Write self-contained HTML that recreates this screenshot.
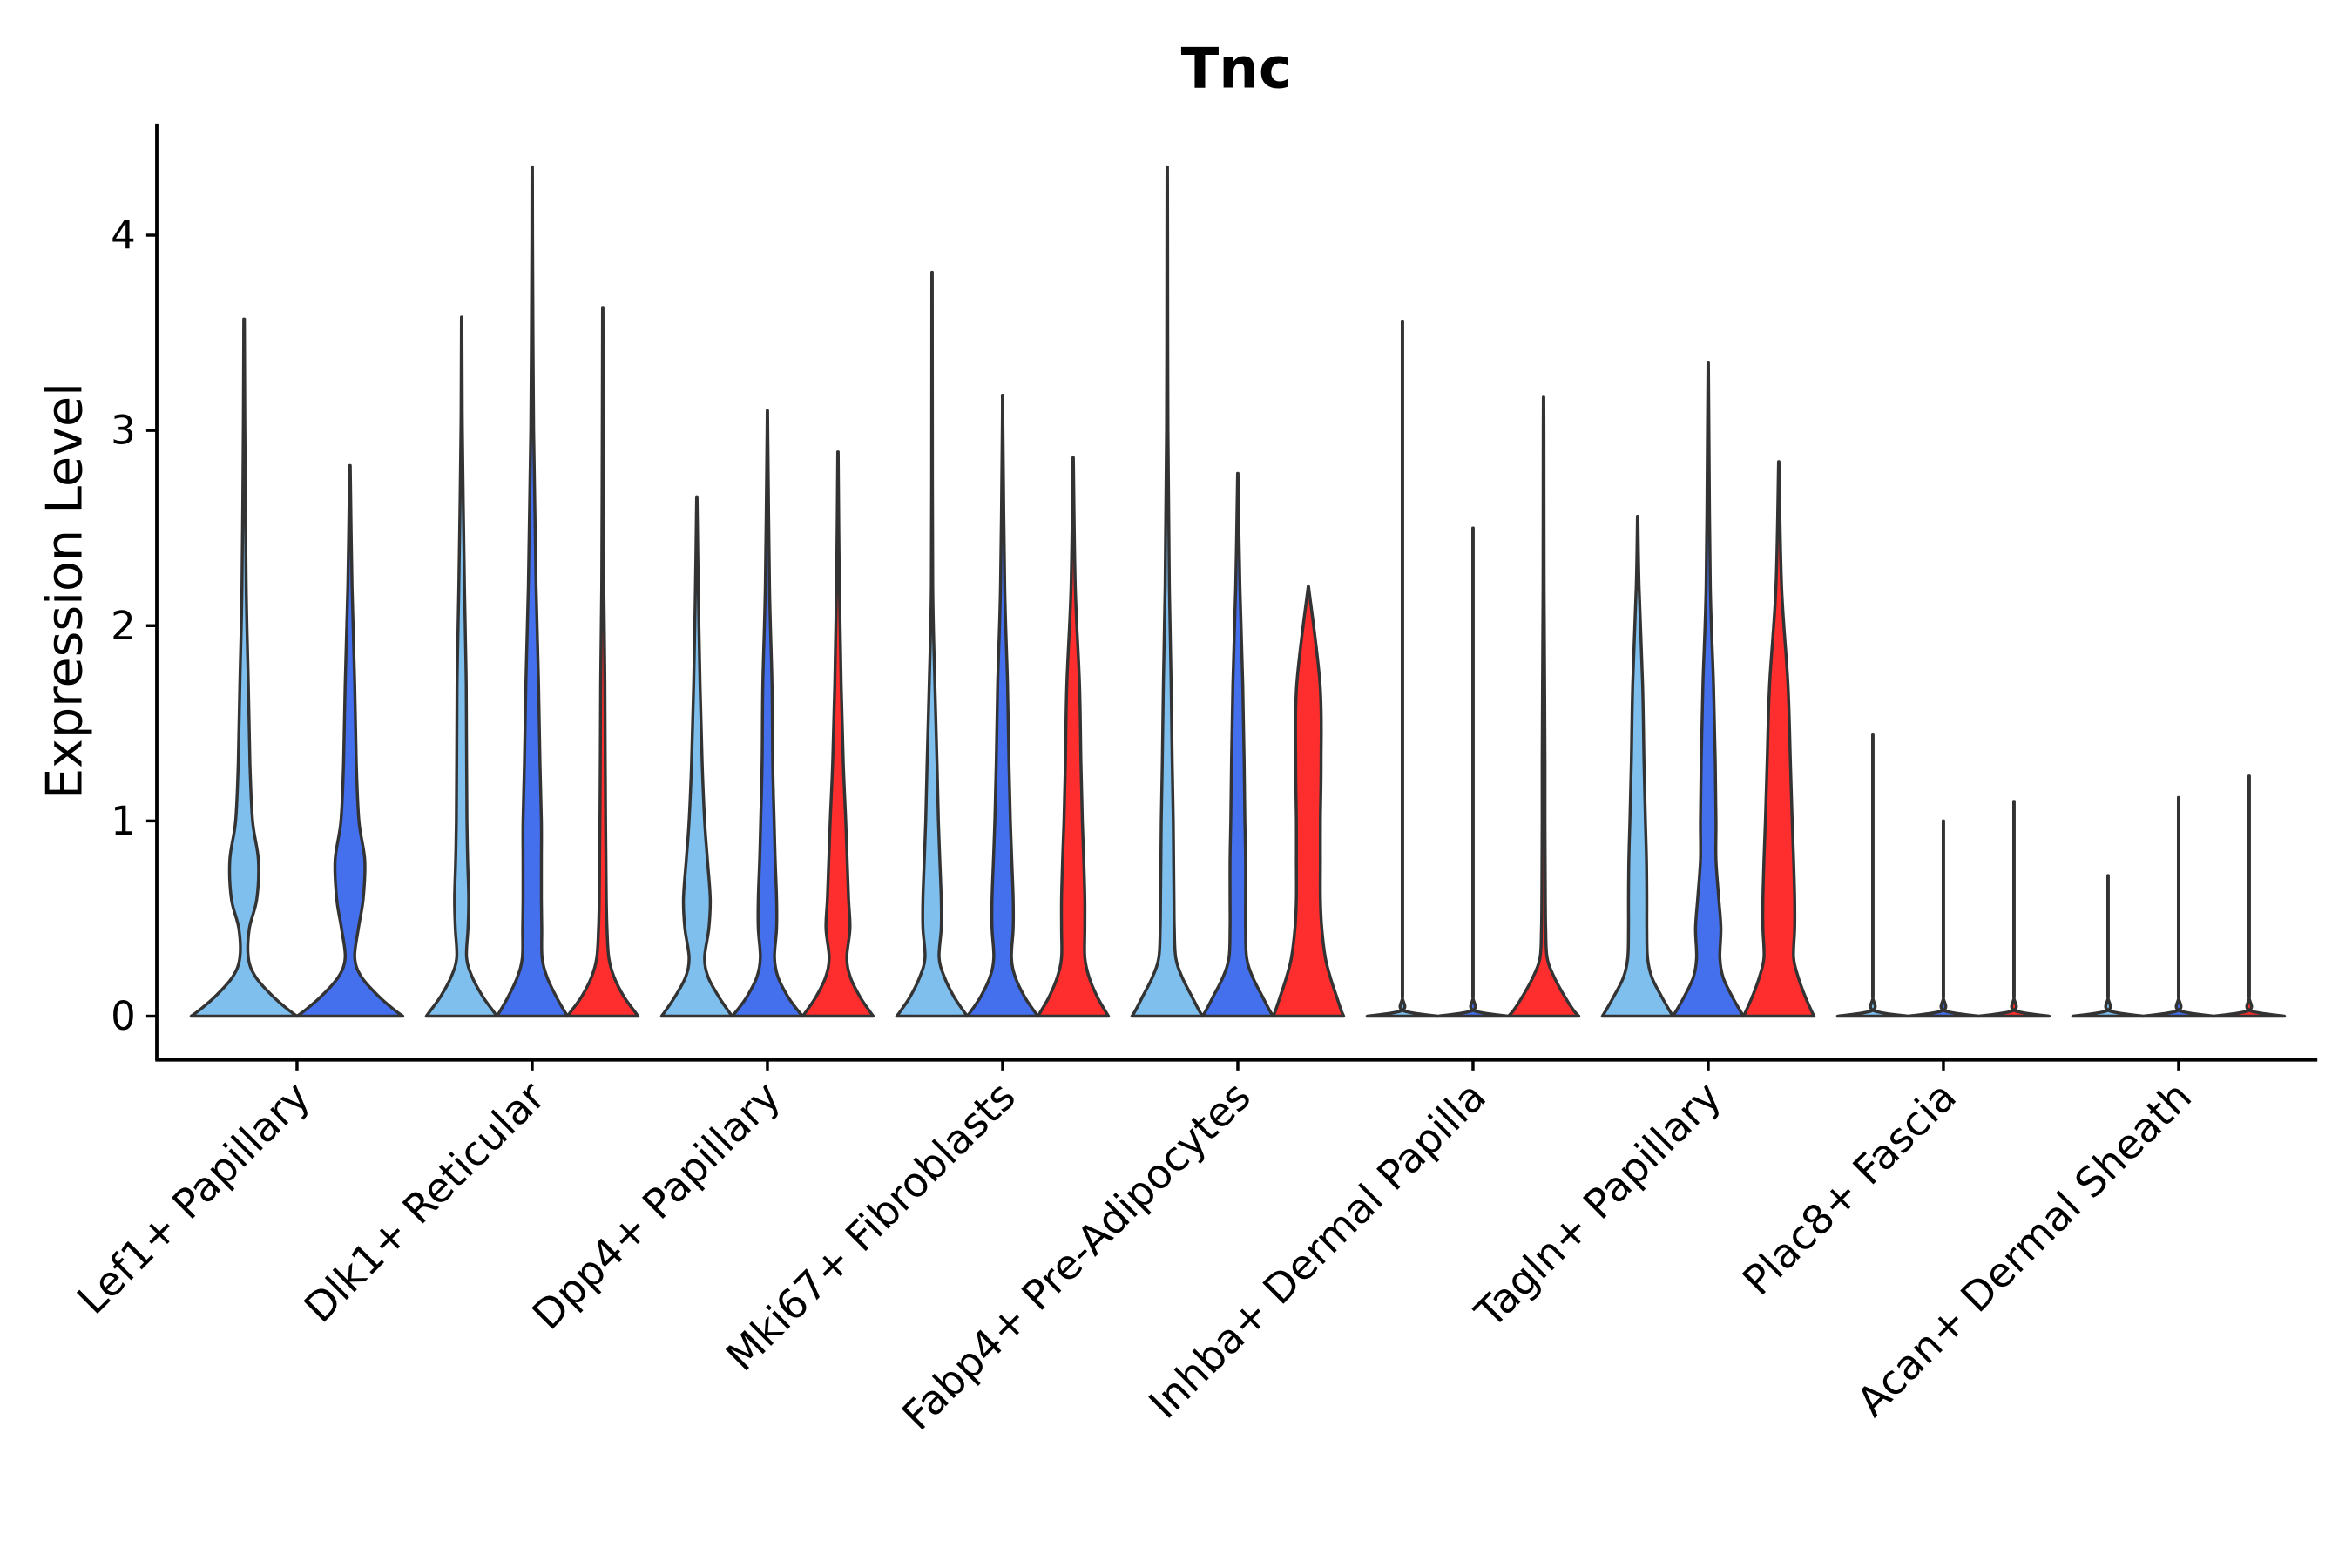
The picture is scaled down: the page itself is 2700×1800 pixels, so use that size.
<!DOCTYPE html>
<html><head><meta charset="utf-8"><style>
html,body{margin:0;padding:0;background:#fff}
svg{display:block;font-family:"DejaVu Sans","Liberation Sans",sans-serif}
</style></head><body>
<svg id="chart" width="2700" height="1800" viewBox="0 0 1560 1040" xmlns="http://www.w3.org/2000/svg">
<text x="820" y="58" text-anchor="middle" font-size="37" font-weight="bold">Tnc</text>
<text transform="translate(54,392) rotate(-90)" text-anchor="middle" font-size="33">Expression Level</text>
<g id="plot"></g>
</svg>
<script>
const categories = ["Lef1+ Papillary","Dlk1+ Reticular","Dpp4+ Papillary","Mki67+ Fibroblasts","Fabp4+ Pre-Adipocytes","Inhba+ Dermal Papilla","Tagln+ Papillary","Plac8+ Fascia","Acan+ Dermal Sheath"];
const groupNames = ["light","blue","red"];
const groupColors = ["#7fbfee","#4470ee","#ff2e2e"];
const yTicks = [0,1,2,3,4];
const densityLevels = [0,0.03,0.1,0.2,0.3,0.45,0.6,0.8,1.0,1.3,1.7,2.2,3.0,4.0,5.0];
const groupsPresent = [[0,1],[0,1,2],[0,1,2],[0,1,2],[0,1,2],[0,1,2],[0,1,2],[0,1,2],[0,1,2]];
const maxValues = [
 [3.57,2.82],[3.58,4.35,3.63],[2.66,3.10,2.89],[3.81,3.18,2.86],[4.35,2.78,2.20],
 [3.56,2.50,3.17],[2.56,3.35,2.84],[1.44,1.00,1.10],[0.72,1.12,1.23]];
const FLAT = [1,0.006,0.005,0.005,0.005,0.005,0.005,0.005,0.005,0.005,0.005,0.005,0.005,0.005,0];
const densities = [
 [[1,0.85,0.55,0.22,0.08,0.1,0.24,0.27,0.16,0.11,0.08,0.04,0.015,0.01,0],
  [1,0.85,0.55,0.22,0.09,0.16,0.25,0.28,0.17,0.12,0.09,0.04,0.015,0,0]],
 [[1,0.88,0.6,0.3,0.14,0.18,0.2,0.17,0.15,0.14,0.13,0.08,0.02,0,0],
  [1,0.9,0.68,0.42,0.28,0.27,0.26,0.26,0.26,0.22,0.18,0.11,0.04,0.01,0],
  [1,0.88,0.6,0.32,0.17,0.12,0.1,0.09,0.08,0.07,0.06,0.03,0.015,0,0]],
 [[1,0.88,0.62,0.32,0.22,0.34,0.38,0.3,0.22,0.15,0.09,0.04,0.01,0,0],
  [1,0.86,0.58,0.3,0.2,0.26,0.26,0.22,0.19,0.15,0.13,0.06,0.01,0,0],
  [1,0.88,0.62,0.35,0.25,0.34,0.3,0.26,0.22,0.15,0.09,0.04,0.01,0,0]],
 [[1,0.88,0.62,0.35,0.2,0.26,0.26,0.22,0.18,0.14,0.08,0.02,0.01,0,0],
  [1,0.88,0.62,0.36,0.25,0.3,0.3,0.26,0.22,0.18,0.14,0.06,0.01,0,0],
  [1,0.9,0.68,0.45,0.33,0.33,0.33,0.3,0.26,0.22,0.18,0.06,0.01,0,0]],
 [[1,0.9,0.7,0.42,0.24,0.2,0.19,0.18,0.17,0.14,0.11,0.06,0.02,0.01,0],
  [1,0.9,0.7,0.42,0.25,0.22,0.22,0.22,0.2,0.18,0.14,0.06,0.02,0,0],
  [1,0.93,0.8,0.62,0.48,0.38,0.34,0.34,0.34,0.36,0.33,0.15,0,0,0]],
 [FLAT, FLAT,
  [1,0.85,0.6,0.3,0.1,0.06,0.05,0.045,0.04,0.04,0.03,0.015,0.01,0,0]],
 [[1,0.9,0.68,0.4,0.28,0.26,0.26,0.25,0.22,0.18,0.14,0.04,0.01,0,0],
  [1,0.9,0.68,0.42,0.33,0.36,0.3,0.22,0.22,0.2,0.15,0.06,0.02,0,0],
  [1,0.92,0.75,0.55,0.42,0.45,0.45,0.42,0.38,0.33,0.26,0.08,0.01,0,0]],
 [FLAT,FLAT,FLAT],
 [FLAT,FLAT,FLAT]
];

const NS="http://www.w3.org/2000/svg";
const plot=document.getElementById('plot');
const X0=104, X1=1537, YB=703, YT=82;
const catStart=197, catStep=156;
function xScale(i){return catStart+i*catStep;}
function yScale(v){return 674 - v*129.5;}
const slot=catStep*0.9;

function mk(tag,attrs){const e=document.createElementNS(NS,tag);for(const k in attrs)e.setAttribute(k,attrs[k]);return e;}
function smoothPath(P){
  let d='M'+P[0][0].toFixed(2)+','+P[0][1].toFixed(2);
  for(let i=0;i<P.length-1;i++){
    const p0=P[Math.max(0,i-1)],p1=P[i],p2=P[i+1],p3=P[Math.min(P.length-1,i+2)];
    const c1=[p1[0]+(p2[0]-p0[0])/6,p1[1]+(p2[1]-p0[1])/6];
    const c2=[p2[0]-(p3[0]-p1[0])/6,p2[1]-(p3[1]-p1[1])/6];
    d+='C'+c1[0].toFixed(2)+','+c1[1].toFixed(2)+' '+c2[0].toFixed(2)+','+c2[1].toFixed(2)+' '+p2[0].toFixed(2)+','+p2[1].toFixed(2);
  }
  return d;
}

categories.forEach((cat,ci)=>{
  const gs=groupsPresent[ci]; const n=gs.length; const w=slot/n;
  gs.forEach((g,k)=>{
    const cx=xScale(ci)-slot/2+w*(k+0.5);
    const half=w/2;
    const mx=maxValues[ci][k]; const dens=densities[ci][k];
    const pts=[];
    for(let j=0;j<densityLevels.length;j++){
      const lv=densityLevels[j];
      if(lv>=mx){pts.push([mx,0.006]);break;}
      pts.push([lv,Math.max(dens[j],0.006)]);
    }
    const right=pts.map(p=>[cx+p[1]*half,yScale(p[0])]);
    const left=pts.slice().reverse().map(p=>[cx-p[1]*half,yScale(p[0])]);
    let d=smoothPath(right);
    d+='L'+left[0][0].toFixed(2)+','+left[0][1].toFixed(2)+smoothPath(left).replace(/^M[^C]*/,'')+'Z';
    const path=mk('path',{d:d,fill:groupColors[g],stroke:'#333','stroke-width':2,'stroke-linejoin':'round'});
    
    
    plot.appendChild(path);
  });
});

const yAxis=mk('line',{x1:X0,y1:YT,x2:X0,y2:YB,stroke:'#000','stroke-width':2.2});


plot.appendChild(yAxis);
const xAxis=mk('line',{x1:X0-1,y1:YB,x2:X1,y2:YB,stroke:'#000','stroke-width':2.2});


plot.appendChild(xAxis);

yTicks.forEach(v=>{
  const y=yScale(v);
  const t=mk('line',{x1:X0-7,y1:y,x2:X0,y2:y,stroke:'#000','stroke-width':2});
  
  
  plot.appendChild(t);
  const lb=mk('text',{x:X0-14,y:y+9,'text-anchor':'end','font-size':26});
  lb.textContent=String(v);
  
  
  plot.appendChild(lb);
});
categories.forEach((cat,ci)=>{
  const x=xScale(ci);
  const t=mk('line',{x1:x,y1:YB,x2:x,y2:YB+7,stroke:'#000','stroke-width':2});
  
  
  plot.appendChild(t);
  const lb=mk('text',{transform:'translate('+(x+10)+','+(YB+26)+') rotate(-45)','text-anchor':'end','font-size':27});
  lb.textContent=cat;
  
  
  plot.appendChild(lb);
});
</script>
</body></html>
